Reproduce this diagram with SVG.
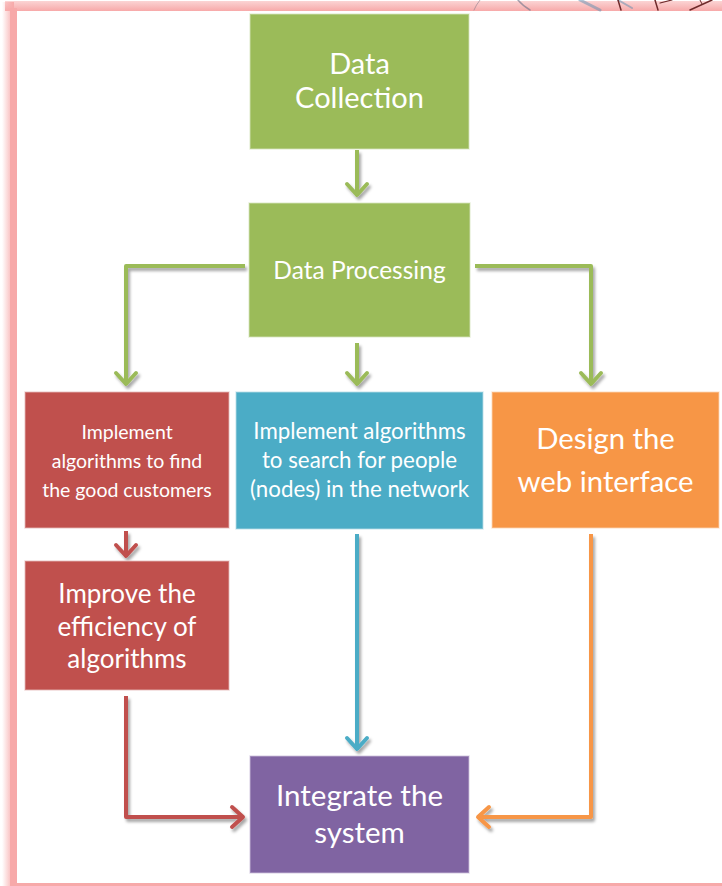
<svg xmlns="http://www.w3.org/2000/svg" width="722" height="886" viewBox="0 0 722 886">
  <defs>
    <style>
      .lbl { font-family: Lato, "Open Sans", "Liberation Sans", sans-serif; fill: #ffffff; text-anchor: middle; }
      .box { stroke-width: 1.5; stroke-opacity: 0.55; }
      .ln { fill: none; stroke-width: 4; stroke-linejoin: round; }
    </style>
    <filter id="sh" x="-20%" y="-20%" width="140%" height="140%">
      <feDropShadow dx="2" dy="3" stdDeviation="1.5" flood-color="#000" flood-opacity="0.35"/>
    </filter>
    <linearGradient id="fadeL" x1="0" y1="0" x2="1" y2="0">
      <stop offset="0" stop-color="#f7a9a9" stop-opacity="0"/>
      <stop offset="1" stop-color="#f7a9a9" stop-opacity="1"/>
    </linearGradient>
    <linearGradient id="fadeT" x1="0" y1="0" x2="0" y2="1">
      <stop offset="0" stop-color="#f7a9a9" stop-opacity="0.5"/>
      <stop offset="1" stop-color="#f7a9a9" stop-opacity="1"/>
    </linearGradient>
    <marker id="ag" markerUnits="userSpaceOnUse" viewBox="-16 -14 20 28" refX="0" refY="0" markerWidth="20" markerHeight="28" orient="auto">
      <path d="M-12,-10 L-1,0 L-12,10" fill="none" stroke="#9bbb59" stroke-width="4" stroke-linecap="round" stroke-linejoin="round"/>
    </marker>
    <marker id="ar" markerUnits="userSpaceOnUse" viewBox="-16 -14 20 28" refX="0" refY="0" markerWidth="20" markerHeight="28" orient="auto">
      <path d="M-12,-10 L-1,0 L-12,10" fill="none" stroke="#c0504d" stroke-width="4" stroke-linecap="round" stroke-linejoin="round"/>
    </marker>
    <marker id="ab" markerUnits="userSpaceOnUse" viewBox="-16 -14 20 28" refX="0" refY="0" markerWidth="20" markerHeight="28" orient="auto">
      <path d="M-12,-10 L-1,0 L-12,10" fill="none" stroke="#4bacc6" stroke-width="4" stroke-linecap="round" stroke-linejoin="round"/>
    </marker>
    <marker id="ao" markerUnits="userSpaceOnUse" viewBox="-16 -14 20 28" refX="0" refY="0" markerWidth="20" markerHeight="28" orient="auto">
      <path d="M-12,-10 L-1,0 L-12,10" fill="none" stroke="#f79646" stroke-width="4" stroke-linecap="round" stroke-linejoin="round"/>
    </marker>
  </defs>

  <!-- frame -->
  <rect x="0" y="0" width="722" height="886" fill="#ffffff"/>
  <rect x="5" y="1" width="717" height="10" fill="url(#fadeT)"/>
  <rect x="2" y="2" width="12" height="884" fill="url(#fadeL)"/>
  <rect x="10" y="8" width="7" height="878" fill="#f7a9a9"/>
  <rect x="10" y="883" width="712" height="3" fill="#f7a9a9"/>
  <g id="decor" stroke-linecap="round" fill="none">
    <path d="M480,0 Q476,5 474,10" stroke="#8a7f8a" stroke-width="1" opacity="0.6"/>
    <path d="M518,0 Q522,5 530,10" stroke="#6b6f86" stroke-width="1.5" opacity="0.6"/>
    <path d="M580,0 L600,10" stroke="#5b8db0" stroke-width="3" opacity="0.5"/>
    <path d="M618,0 L632,8" stroke="#5b8db0" stroke-width="2" opacity="0.5"/>
    <path d="M618,0 L621,10" stroke="#6d2a2a" stroke-width="1.5"/>
    <path d="M655,0 L658,10" stroke="#6d2a2a" stroke-width="1.5"/>
    <path d="M660,3 L672,0" stroke="#6d2a2a" stroke-width="1.2"/>
    <path d="M690,10 L712,0" stroke="#6d2a2a" stroke-width="1.5"/>
    <path d="M702,4 L700,0" stroke="#6d2a2a" stroke-width="1"/>
  </g>

  <!-- connectors -->
  <g id="connectors" filter="url(#sh)">
    <path class="ln" stroke="#9bbb59" d="M357,150 L357,196" marker-end="url(#ag)"/>
    <path class="ln" stroke="#9bbb59" d="M245,266 L126,266 L126,385" marker-end="url(#ag)"/>
    <path class="ln" stroke="#9bbb59" d="M357,343 L357,385" marker-end="url(#ag)"/>
    <path class="ln" stroke="#9bbb59" d="M475,266 L591,266 L591,385" marker-end="url(#ag)"/>
    <path class="ln" stroke="#c0504d" d="M126,531 L126,557" marker-end="url(#ar)"/>
    <path class="ln" stroke="#c0504d" d="M126,696 L126,817 L244,817" marker-end="url(#ar)"/>
    <path class="ln" stroke="#4bacc6" d="M357,534 L357,750" marker-end="url(#ab)"/>
    <path class="ln" stroke="#f79646" d="M591,534 L591,817 L477,817" marker-end="url(#ao)"/>
  </g>

  <g id="n-collection">
    <rect class="box" x="250" y="14" width="219" height="135" fill="#9bbb59" stroke="#d7e4bd"/>
    <text class="lbl" font-size="29" x="359.5" y="74">Data</text>
    <text class="lbl" font-size="29" x="359.5" y="108">Collection</text>
  </g>
  <g id="n-processing">
    <rect class="box" x="249" y="203" width="221" height="134" fill="#9bbb59" stroke="#d7e4bd"/>
    <text class="lbl" font-size="24.5" x="359.5" y="279">Data Processing</text>
  </g>
  <g id="n-good">
    <rect class="box" x="25" y="392" width="204" height="136" fill="#c0504d" stroke="#e6b9b8"/>
    <text class="lbl" font-size="19.5" x="127" y="439">Implement</text>
    <text class="lbl" font-size="19.5" x="127" y="468">algorithms to find</text>
    <text class="lbl" font-size="19.5" x="127" y="497">the good customers</text>
  </g>
  <g id="n-search">
    <rect class="box" x="236" y="392" width="247" height="137" fill="#4bacc6" stroke="#b7dde8"/>
    <text class="lbl" font-size="22.3" x="359.5" y="439">Implement algorithms</text>
    <text class="lbl" font-size="22.3" x="359.5" y="468">to search for people</text>
    <text class="lbl" font-size="22.3" x="359.5" y="497">(nodes) in the network</text>
  </g>
  <g id="n-web">
    <rect class="box" x="492" y="392" width="227" height="136" fill="#f79646" stroke="#fbd5b5"/>
    <text class="lbl" font-size="29.3" x="605.5" y="449">Design the</text>
    <text class="lbl" font-size="29.3" x="605.5" y="492">web interface</text>
  </g>
  <g id="n-improve">
    <rect class="box" x="25" y="561" width="204" height="129" fill="#c0504d" stroke="#e6b9b8"/>
    <text class="lbl" font-size="26" x="127" y="603">Improve the</text>
    <text class="lbl" font-size="26" x="127" y="636">efficiency of</text>
    <text class="lbl" font-size="26" x="127" y="668">algorithms</text>
  </g>
  <g id="n-integrate">
    <rect class="box" x="250" y="756" width="219" height="117" fill="#8064a2" stroke="#ccc1da"/>
    <text class="lbl" font-size="29.5" x="359.5" y="806">Integrate the</text>
    <text class="lbl" font-size="29.5" x="359.5" y="843">system</text>
  </g>
</svg>
